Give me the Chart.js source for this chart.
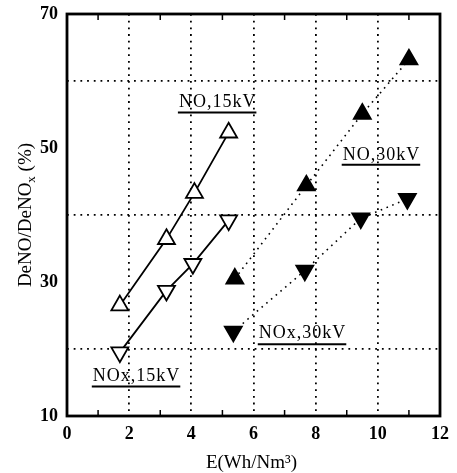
<!DOCTYPE html>
<html>
<head>
<meta charset="utf-8">
<script src="https://cdn.jsdelivr.net/npm/chart.js@4.4.0/dist/chart.umd.min.js"></script>
<style>
  html, body { margin: 0; padding: 0; background: #fff; }
</style>
</head>
<body>
<canvas id="chart" width="457" height="473"></canvas>
<script>
// axis ticks
const xTickLabels = [0, 2, 4, 6, 8, 10, 12];
const yTickLabels = [10, 30, 50, 70];

// series: energy density E (Wh/Nm3) vs removal (%)
const seriesNames = ['NO,15kV', 'NOx,15kV', 'NO,30kV', 'NOx,30kV'];
const no15E = [1.7, 3.2, 4.1, 5.2];
const no15 = [26.5, 36.4, 43.3, 52.3];
const nox15E = [1.7, 3.2, 4.05, 5.2];
const nox15 = [19.5, 28.7, 32.7, 39.2];
const no30E = [5.4, 7.7, 9.5, 11.0];
const no30 = [30.5, 44.4, 55.1, 63.2];
const nox30E = [5.35, 7.65, 9.45, 10.95];
const nox30 = [22.6, 31.7, 39.5, 42.4];

const serif = "'Liberation Serif', 'Times New Roman', serif";

function toPoints(xs, ys) {
    return xs.map((x, i) => ({ x: x, y: ys[i] }));
}

function makeSeries(label, xs, ys, upward, filled, dotted) {
    return {
        label: label,
        data: toPoints(xs, ys),
        showLine: true,
        borderColor: '#000',
        borderWidth: dotted ? 1.6 : 1.8,
        borderDash: dotted ? [1.6, 4.6] : [],
        pointStyle: 'triangle',
        pointRotation: upward ? 0 : 180,
        pointRadius: 9.8,
        pointBorderWidth: 1.8,
        pointBackgroundColor: filled ? '#000' : '#fff',
        pointBorderColor: '#000',
        tension: 0
    };
}

// label text placed in data units: [x of left edge, y of text centre, y of underline]
const seriesLabelPos = {
    'NO,15kV': [3.6, 56.8, 55.3],
    'NOx,15kV': [0.83, 15.9, 14.4],
    'NO,30kV': [8.87, 48.85, 47.5],
    'NOx,30kV': [6.17, 22.3, 20.7]
};

// frame, inward minor ticks, axis titles and series labels
const decorations = {
    id: 'decorations',
    afterDatasetsDraw(chart) {
        const ctx = chart.ctx;
        const a = chart.chartArea;
        const xs = chart.scales.x;
        const ys = chart.scales.y;
        ctx.save();

        // minor ticks on bottom and top
        ctx.strokeStyle = '#000';
        ctx.lineWidth = 1.5;
        for (let v = 1; v < 12; v += 2) {
            const px = xs.getPixelForValue(v);
            ctx.beginPath();
            ctx.moveTo(px, a.bottom);
            ctx.lineTo(px, a.bottom - 6);
            ctx.moveTo(px, a.top);
            ctx.lineTo(px, a.top + 6);
            ctx.stroke();
        }

        // frame
        ctx.lineWidth = 2.8;
        ctx.strokeRect(a.left, a.top, a.right - a.left, a.bottom - a.top);

        // series labels with underline
        ctx.fillStyle = '#000';
        ctx.font = '18px ' + serif;
        ctx.letterSpacing = '1px';
        ctx.textBaseline = 'middle';
        ctx.textAlign = 'left';
        seriesNames.forEach(name => {
            const p = seriesLabelPos[name];
            const x0 = xs.getPixelForValue(p[0]);
            const yt = ys.getPixelForValue(p[1]);
            const yu = ys.getPixelForValue(p[2]);
            const w = ctx.measureText(name).width;
            ctx.fillText(name, x0, yt);
            ctx.lineWidth = 2;
            ctx.beginPath();
            ctx.moveTo(x0 - 1, yu);
            ctx.lineTo(x0 + w, yu);
            ctx.stroke();
        });
        ctx.letterSpacing = '0px';

        // x axis title
        ctx.font = '19px ' + serif;
        ctx.textAlign = 'center';
        ctx.fillText('E(Wh/Nm³)', (a.left + a.right) / 2 - 2, 463);

        // y axis title with subscript x
        ctx.translate(26, (a.top + a.bottom) / 2);
        ctx.rotate(-Math.PI / 2);
        const main = 'DeNO/DeNO';
        const tail = ' (%)';
        ctx.font = '19px ' + serif;
        const wMain = ctx.measureText(main).width;
        const wTail = ctx.measureText(tail).width;
        ctx.font = '13px ' + serif;
        const wSub = ctx.measureText('x').width;
        let x = -(wMain + wSub + wTail) / 2;
        ctx.textAlign = 'left';
        ctx.font = '19px ' + serif;
        ctx.fillText(main, x, 0);
        x += wMain;
        ctx.font = '13px ' + serif;
        ctx.fillText('x', x, 6);
        x += wSub;
        ctx.font = '19px ' + serif;
        ctx.fillText(tail, x, 0);

        ctx.restore();
    }
};

function gridColor(values, min, max) {
    return c => {
        const v = c.tick ? c.tick.value : null;
        return (v !== null && values.includes(v) && v > min && v < max) ? '#000' : 'rgba(0,0,0,0)';
    };
}

const ctx = document.getElementById('chart').getContext('2d');
new Chart(ctx, {
    type: 'scatter',
    data: {
        datasets: [
            makeSeries(seriesNames[0], no15E, no15, true, false, false),
            makeSeries(seriesNames[1], nox15E, nox15, false, false, false),
            makeSeries(seriesNames[2], no30E, no30, true, true, true),
            makeSeries(seriesNames[3], nox30E, nox30, false, true, true)
        ]
    },
    options: {
        responsive: false,
        animation: false,
        layout: {
            padding: { top: 14, right: 8, bottom: 0, left: 0 }
        },
        plugins: {
            legend: { display: false },
            title: { display: false },
            tooltip: { enabled: false }
        },
        scales: {
            x: {
                type: 'linear',
                min: 0,
                max: 12,
                afterFit: s => { s.height = 57; },
                ticks: {
                    stepSize: 2,
                    padding: 8,
                    color: '#000',
                    font: { family: serif, size: 18, weight: 'bold' },
                    callback: v => xTickLabels.includes(v) ? v : ''
                },
                grid: {
                    drawTicks: false,
                    lineWidth: 1.8,
                    color: gridColor([2, 4, 6, 8, 10], 0, 12)
                },
                border: { display: false, dash: [1.8, 4.9] }
            },
            y: {
                type: 'linear',
                min: 10,
                max: 70,
                afterFit: s => {
                    s.width = 67;
                    s.paddingTop = 0;
                    s.paddingBottom = 0;
                },
                ticks: {
                    stepSize: 10,
                    padding: 9,
                    color: '#000',
                    font: { family: serif, size: 18, weight: 'bold' },
                    callback: v => yTickLabels.includes(v) ? v : ''
                },
                grid: {
                    drawTicks: false,
                    lineWidth: 1.8,
                    color: gridColor([20, 40, 60], 10, 70)
                },
                border: { display: false, dash: [1.8, 4.9] }
            }
        }
    },
    plugins: [decorations]
});
</script>
</body>
</html>
